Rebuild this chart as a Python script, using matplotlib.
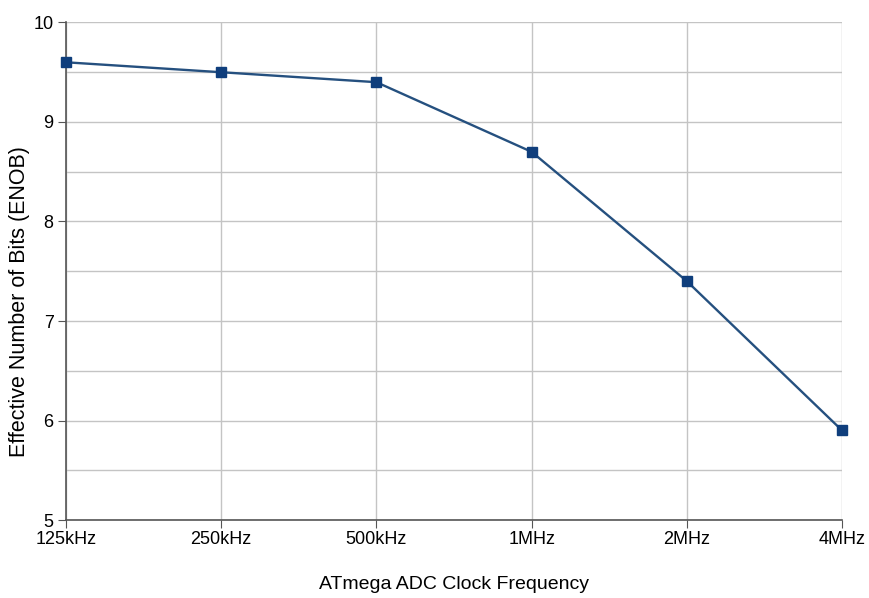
import numpy as np
import matplotlib.pyplot as plt

plt.rcParams['font.family'] = ['Liberation Sans', 'DejaVu Sans']

freqs = ["125kHz", "250kHz", "500kHz", "1MHz", "2MHz", "4MHz"]
enob = [9.6, 9.5, 9.4, 8.7, 7.4, 5.9]

fig = plt.figure(figsize=(8.7, 5.98), dpi=100)
ax = fig.add_axes([0.0759, 0.1304, 0.892, 0.832])

x = np.arange(len(freqs))
ax.plot(x, enob, '-', color="#25507f", lw=1.7, marker='s', markersize=7,
        markerfacecolor="#0f3e7c", markeredgecolor="#0f3e7c", zorder=3,
        clip_on=False)

ax.set_xlim(0, len(freqs) - 1)
ax.set_ylim(5, 10)
ax.set_xticks(x)
ax.set_xticklabels(freqs, fontsize=13)
ax.set_yticks([5, 6, 7, 8, 9, 10])
ax.set_yticks(np.arange(5.5, 10, 1.0), minor=True)
ax.tick_params(axis='y', which='major', labelsize=13, length=6, color="#555555", pad=3)
ax.tick_params(axis='y', which='minor', length=0)
ax.tick_params(axis='x', length=6, color="#555555", pad=2)

ax.grid(True, which='both', color="#c4c4c4", lw=1)
ax.set_axisbelow(True)
for s in ['top', 'right']:
  ax.spines[s].set_visible(False)
for s in ['left', 'bottom']:
  ax.spines[s].set_color("#555555")
  ax.spines[s].set_linewidth(1.2)

ax.set_xlabel("ATmega ADC Clock Frequency", fontsize=14, labelpad=20)
ax.set_ylabel("Effective Number of Bits (ENOB)", fontsize=15.5)
ax.yaxis.set_label_coords(-0.047, 0.44)

fig.savefig("out.png", dpi=100)
